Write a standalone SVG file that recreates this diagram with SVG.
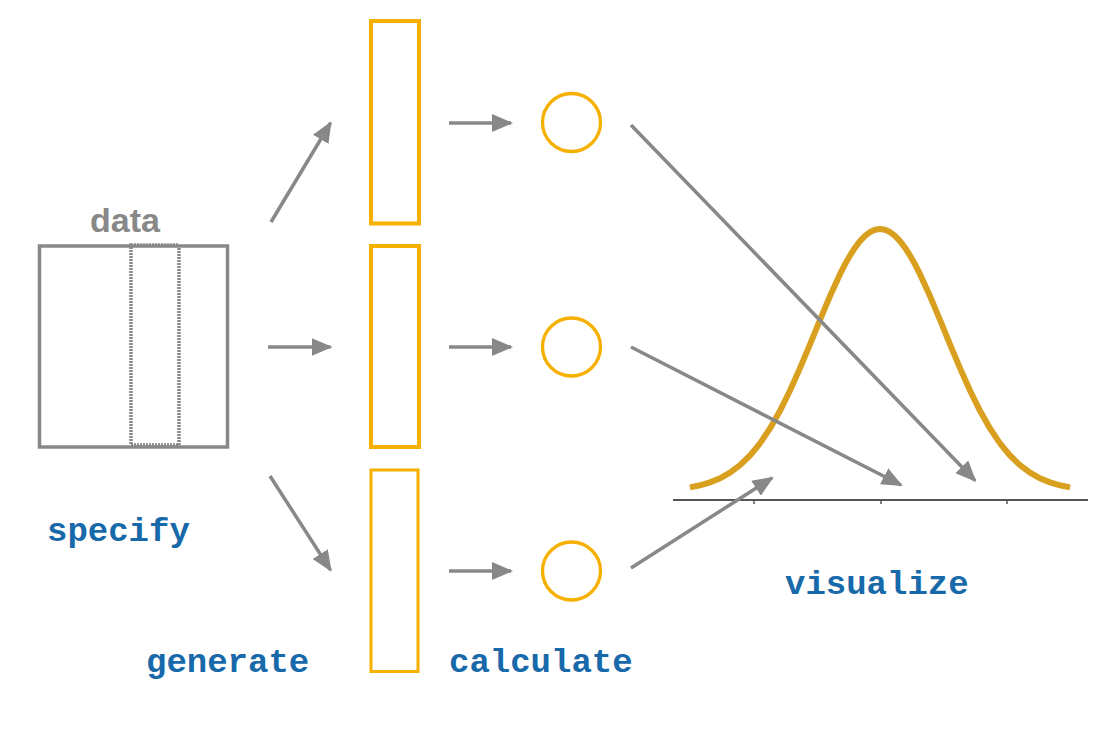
<svg xmlns="http://www.w3.org/2000/svg" width="1114" height="733" viewBox="0 0 1114 733">
<defs>
<style>
.lbl{font-family:"Liberation Mono","Courier New",monospace;font-weight:bold;font-size:34px;fill:#1769AA}
.bar{fill:none;stroke:#F6B100;stroke-width:4}
.circ{fill:none;stroke:#F6B100;stroke-width:3.3}
.arr{fill:none;stroke:#888888;stroke-width:3.5;marker-end:url(#ah)}
</style>
<marker id="ah" markerUnits="userSpaceOnUse" markerWidth="22" markerHeight="18" refX="19" refY="9" orient="auto">
<path d="M0,0 L21,9 L0,18 z" fill="#888888"/>
</marker>
</defs>
<rect width="1114" height="733" fill="#ffffff"/>
<g id="data">
<text x="90" y="232" font-family="Liberation Sans,Arial,sans-serif" font-weight="bold" font-size="34" fill="#888888">data</text>
<rect x="39.5" y="246" width="188" height="201" fill="none" stroke="#888888" stroke-width="3.5"/>
<rect x="131" y="245" width="48" height="200" fill="none" stroke="#888888" stroke-width="3.5" stroke-dasharray="2 1"/>
</g>
<g id="sample1"><rect class="bar" x="371" y="21" width="48" height="202.5"/></g>
<g id="sample2"><rect class="bar" x="371" y="246" width="48" height="201"/></g>
<g id="sample3"><rect class="bar" x="371" y="470" width="47" height="201.5" style="stroke-width:3"/></g>
<g id="stat1"><circle class="circ" cx="571.5" cy="122.5" r="29"/></g>
<g id="stat2"><circle class="circ" cx="571.5" cy="347" r="29"/></g>
<g id="stat3"><circle class="circ" cx="571.5" cy="571" r="29"/></g>
<g id="plot">
<line x1="673" y1="500" x2="1088" y2="500" stroke="#555555" stroke-width="2"/>
<line x1="754" y1="500" x2="754" y2="504" stroke="#555555" stroke-width="1.5"/>
<line x1="881" y1="500" x2="881" y2="504" stroke="#555555" stroke-width="1.5"/>
<line x1="1007" y1="500" x2="1007" y2="504" stroke="#555555" stroke-width="1.5"/>
<polyline fill="none" stroke="#D9A020" stroke-width="6" stroke-linejoin="round" points="690,487.4 700,485.3 710,482.4 720,478.3 730,472.7 740,465.2 750,455.5 760,443.3 770,428.4 780,410.8 790,390.5 800,368.1 810,344.3 820,319.9 830,296.1 840,274.2 845,264.4 850,255.5 855,247.7 860,241.1 865,235.9 870,232.1 875,229.8 880,229 885,229.8 890,232.1 895,235.9 900,241.1 905,247.7 910,255.5 915,264.4 920,274.2 930,296.1 940,319.9 950,344.3 960,368.1 970,390.5 980,410.8 990,428.4 1000,443.3 1010,455.5 1020,465.2 1030,472.7 1040,478.3 1050,482.4 1060,485.3 1070,487.4"/>
</g>
<g id="connectors">
<line class="arr" x1="271" y1="222" x2="330.5" y2="123"/>
<line class="arr" x1="268" y1="347" x2="330.5" y2="347"/>
<line class="arr" x1="270" y1="476" x2="330.5" y2="570"/>
<line class="arr" x1="449" y1="123" x2="511" y2="123"/>
<line class="arr" x1="449" y1="347" x2="511" y2="347"/>
<line class="arr" x1="449" y1="571" x2="511" y2="571"/>
<line class="arr" x1="631" y1="125" x2="975" y2="480.5"/>
<line class="arr" x1="631" y1="347" x2="901" y2="485"/>
<line class="arr" x1="631" y1="568" x2="772" y2="478"/>
</g>
<g id="labels">
<text class="lbl" x="47" y="541">specify</text>
<text class="lbl" x="146" y="672">generate</text>
<text class="lbl" x="449" y="672">calculate</text>
<text class="lbl" x="785" y="594">visualize</text>
</g>
</svg>
